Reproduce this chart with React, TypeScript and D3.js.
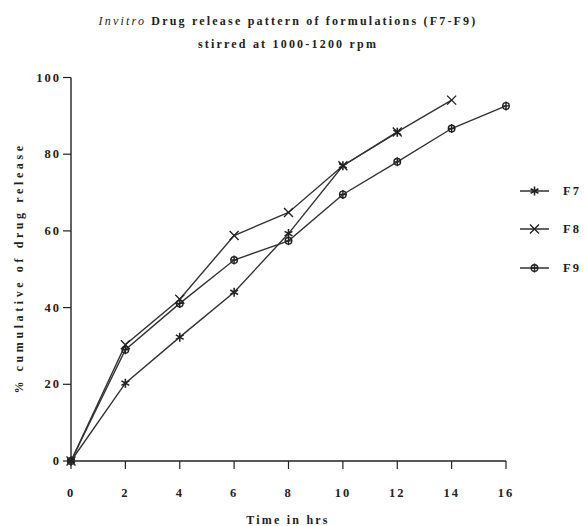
import React from 'react'
import * as d3 from 'd3'

// time points (hrs) and % cumulative release for each formulation
const hoursF7 = [0, 2, 4, 6, 8, 10, 12]
const releaseF7 = [0, 20.3, 32.3, 44.0, 59.3, 77.0, 85.7]
const hoursF8 = [0, 2, 4, 6, 8, 10, 12, 14]
const releaseF8 = [0, 30.3, 42.2, 58.8, 64.8, 77.0, 85.8, 94.1]
const hoursF9 = [0, 2, 4, 6, 8, 10, 12, 14, 16]
const releaseF9 = [0, 29.0, 41.1, 52.4, 57.4, 69.5, 78.0, 86.7, 92.6]

const xTicks = [0, 2, 4, 6, 8, 10, 12, 14, 16]
const yTicks = [0, 20, 40, 60, 80, 100]
const seriesNames = ['F7', 'F8', 'F9']

const W = 585
const H = 526
const FONT = '"Liberation Serif", "Times New Roman", serif'
const INK = '#222'
const LINE = '#333'

const x = d3.scaleLinear().domain([0, 16]).range([71, 506])
const y = d3.scaleLinear().domain([0, 100]).range([461, 77.5])

const Marker = ({ kind, cx, cy }: { kind: string; cx: number; cy: number }) => {
  if (kind === 'F7') {
    const r = 4.5
    const dx = r * Math.cos(Math.PI / 6)
    const dy = r * Math.sin(Math.PI / 6)
    return (
      <path
        d={`M${cx},${cy - r}V${cy + r}M${cx - dx},${cy - dy}L${cx + dx},${cy + dy}M${cx - dx},${cy + dy}L${cx + dx},${cy - dy}`}
        stroke={INK}
        strokeWidth={1.6}
        fill="none"
      />
    )
  }
  if (kind === 'F8') {
    const r = 4.5
    return (
      <path
        d={`M${cx - r},${cy - r}L${cx + r},${cy + r}M${cx - r},${cy + r}L${cx + r},${cy - r}`}
        stroke={INK}
        strokeWidth={1.4}
        fill="none"
      />
    )
  }
  return (
    <g stroke={INK} strokeWidth={1.4} fill="none">
      <circle cx={cx} cy={cy} r={3.3} />
      <path d={`M${cx},${cy - 4.5}V${cy + 4.5}M${cx - 3.3},${cy}H${cx + 3.3}`} />
    </g>
  )
}

export default function App() {
  const series = [
    { name: 'F7', hours: hoursF7, values: releaseF7 },
    { name: 'F8', hours: hoursF8, values: releaseF8 },
    { name: 'F9', hours: hoursF9, values: releaseF9 },
  ]
  const line = d3
    .line<[number, number]>()
    .x(d => x(d[0]))
    .y(d => y(d[1]))

  const legendY = [191, 229, 268]

  return (
    <svg
      width={W}
      height={H}
      style={{ position: 'absolute', left: 0, top: 0, background: '#fff' }}
      fontFamily={FONT}
    >
      {/* title */}
      <text x={288} y={25} textAnchor="middle" fontSize={12} fill={INK} letterSpacing={2.2}>
        <tspan fontStyle="italic">Invitro</tspan>
        <tspan fontWeight="bold"> Drug release pattern of formulations (F7-F9)</tspan>
      </text>
      <text x={288} y={48} textAnchor="middle" fontSize={12} fontWeight="bold" fill={INK} letterSpacing={2.2}>
        stirred at 1000-1200 rpm
      </text>

      {/* axes */}
      <line x1={x(0)} x2={x(16)} y1={y(0)} y2={y(0)} stroke={INK} strokeWidth={1.4} />
      <line x1={x(0)} x2={x(0)} y1={y(0)} y2={y(100)} stroke={INK} strokeWidth={1.4} />
      {xTicks.map(t => (
        <g key={'x' + t}>
          <line x1={x(t)} x2={x(t)} y1={y(0)} y2={y(0) + 8} stroke={INK} strokeWidth={1.2} />
          <text x={x(t)} y={497} textAnchor="middle" fontSize={12.5} fontWeight="bold" fill={INK} letterSpacing={2}>
            {t}
          </text>
        </g>
      ))}
      {yTicks.map(t => (
        <g key={'y' + t}>
          <line x1={x(0) - 8} x2={x(0)} y1={y(t)} y2={y(t)} stroke={INK} strokeWidth={1.2} />
          <text x={61} y={y(t) + 4} textAnchor="end" fontSize={12.5} fontWeight="bold" fill={INK} letterSpacing={2}>
            {t}
          </text>
        </g>
      ))}
      <text x={288} y={524} textAnchor="middle" fontSize={12} fontWeight="bold" fill={INK} letterSpacing={2.2}>
        Time in hrs
      </text>
      <text
        transform="translate(23,268) rotate(-90)"
        textAnchor="middle"
        fontSize={12}
        fontWeight="bold"
        fill={INK}
        letterSpacing={3.6}
      >
        % cumulative of drug release
      </text>

      {/* series */}
      {series.map(s => {
        const pts = s.hours.map((h, i) => [h, s.values[i]] as [number, number])
        return (
          <g key={s.name}>
            <path d={line(pts) || ''} fill="none" stroke={LINE} strokeWidth={1.4} />
            {pts.map((p, i) => (
              <Marker key={i} kind={s.name} cx={x(p[0])} cy={y(p[1])} />
            ))}
          </g>
        )
      })}

      {/* legend */}
      {seriesNames.map((n, i) => (
        <g key={'lg' + n}>
          <line x1={520} x2={549} y1={legendY[i]} y2={legendY[i]} stroke={INK} strokeWidth={1.4} />
          <Marker kind={n} cx={534.5} cy={legendY[i]} />
          <text x={563} y={legendY[i] + 4} fontSize={12.5} fontWeight="bold" fill={INK} letterSpacing={2}>
            {n}
          </text>
        </g>
      ))}
    </svg>
  )
}
